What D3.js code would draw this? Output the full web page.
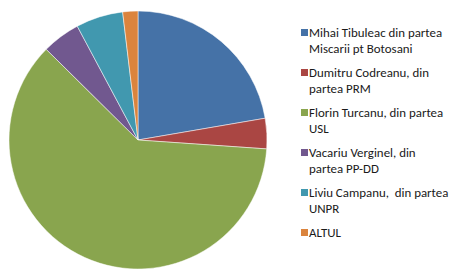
<!DOCTYPE html>
<html>
<head>
<meta charset="utf-8">
<script src="https://cdn.jsdelivr.net/npm/d3@7"></script>
<style>
  body { margin: 0; background: #fff; }
  svg { display: block; }
</style>
</head>
<body>
<div class="vis-pie"></div>
<script>
const labels = [
    ["Mihai Tibuleac din partea", "Miscarii pt Botosani"],
    ["Dumitru Codreanu, din", "partea PRM"],
    ["Florin Turcanu, din partea", "USL"],
    ["Vacariu Verginel, din", "partea PP-DD"],
    ["Liviu Campanu,  din partea", "UNPR"],
    ["ALTUL"]
];
const values = [22.3, 3.8, 61.3, 4.8, 5.9, 1.9];
const colors = ["#4572A7", "#AA4643", "#89A54E", "#71588F", "#4198AF", "#DB843D"];

const width = 461, height = 279;
const cx = 138, cy = 140, radius = 129;

const svg = d3.select(".vis-pie")
    .append("svg")
    .attr("width", width)
    .attr("height", height);

// pie, starting at 12 o'clock going clockwise, no sorting
const pie = d3.pie().sort(null).value(d => d);
const arc = d3.arc().innerRadius(0).outerRadius(radius);

svg.append("g")
    .attr("transform", `translate(${cx},${cy})`)
    .selectAll("path")
    .data(pie(values))
    .join("path")
    .attr("d", arc)
    .attr("fill", (d, i) => colors[i])
    .attr("stroke", "#fff")
    .attr("stroke-width", 0.5);

// legend
const legend = svg.append("g")
    .attr("transform", "translate(301, 29)");

labels.forEach((lines, i) => {
    const row = legend.append("g")
        .attr("transform", `translate(0, ${i * 40})`);

    row.append("rect")
        .attr("width", 7)
        .attr("height", 7)
        .attr("fill", colors[i]);

    const text = row.append("text")
        .attr("x", 8)
        .attr("y", 8)
        .style("font-family", "Carlito, 'Liberation Sans', sans-serif")
        .style("font-size", "12.9px")
        .attr("fill", "#1a1a1a");

    lines.forEach((line, j) => {
        text.append("tspan")
            .attr("x", 8)
            .attr("dy", j === 0 ? 0 : 16)
            .style("white-space", "pre")
            .text(line);
    });
});
</script>
</body>
</html>
